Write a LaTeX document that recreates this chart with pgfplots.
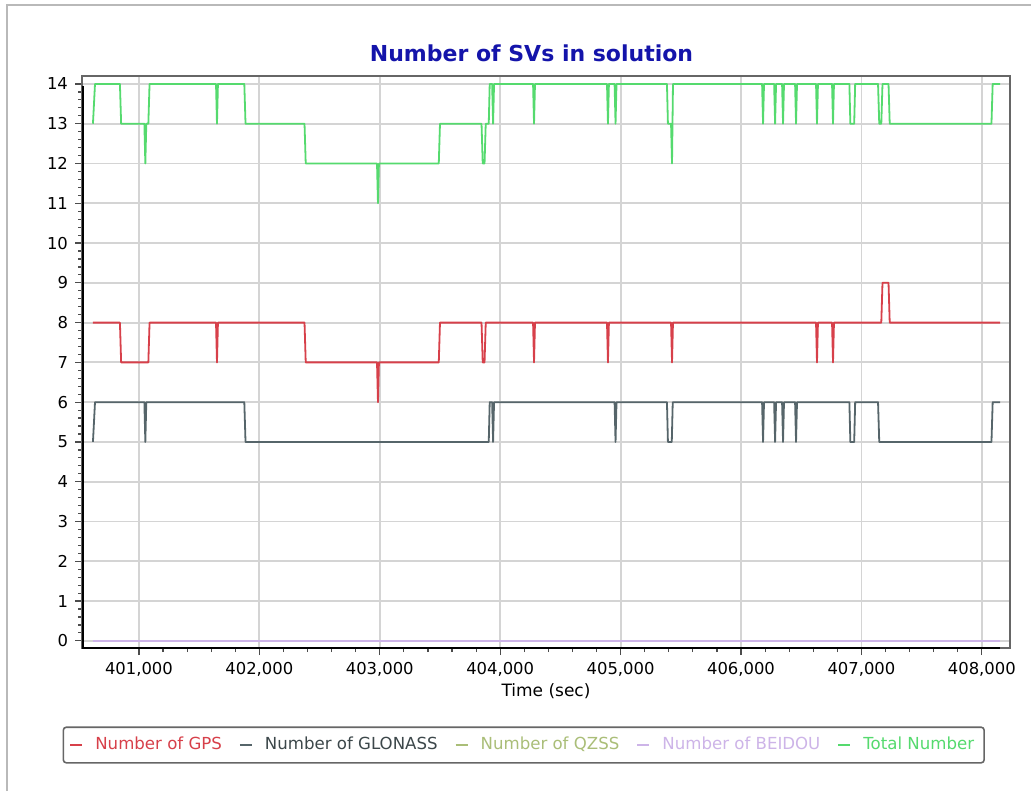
\documentclass[border=0pt]{standalone}
\usepackage{pgfplots}
\pgfplotsset{compat=1.18}
\usepackage{fontspec}
\setmainfont{DejaVu Sans}
\definecolor{gpscol}{RGB}{215,64,74}
\definecolor{glocol}{RGB}{86,101,106}
\definecolor{qzscol}{RGB}{170,190,120}
\definecolor{beicol}{RGB}{205,180,232}
\definecolor{totcol}{RGB}{85,218,110}
\definecolor{titleblue}{RGB}{20,20,170}
\begin{document}
\begin{tikzpicture}[x=1pt,y=1pt]
% 1 px of the reference = 0.5pt; origin at the lower left corner of the plot area
\useasboundingbox (-41,-71.5) rectangle (474.5,324);
\draw[gray!55, line width=0.8pt] (-37.5,-71.5) -- (-37.5,321.5) -- (474.5,321.5);
\begin{axis}[
  at={(0,0)}, anchor=south west, scale only axis,
  width=464pt, height=286pt,
  xmin=400527, xmax=408234, ymin=-0.18, ymax=14.2,
  xtick={401000,402000,...,408000}, ytick={0,1,...,14},
  minor x tick num=4, minor y tick num=4,
  tick pos=left, tick align=outside,
  major tick length=3.5pt, minor tick length=2pt,
  tick style={black!70, line width=0.6pt},
  grid=major, major grid style={black!17, line width=0.9pt},
  axis line style={black!60, line width=0.7pt},
  scaled x ticks=false,
  /pgf/number format/assume math mode=true,
  xticklabel style={/pgf/number format/.cd, fixed, 1000 sep={,}},
  ticklabel style={font=\fontsize{8.2}{9}\selectfont},
  xlabel={Time (sec)},
  xlabel style={font=\fontsize{8.5}{9}\selectfont, yshift=3pt},
  legend columns=5,
  legend style={at={(0.476,-0.1696)}, anchor=center,
    draw=black!60, line width=0.8pt, rounded corners=1.5pt,
    font=\fontsize{8.3}{10}\selectfont, inner sep=3pt,
    /tikz/every odd column/.append style={column sep=4pt},
    /tikz/every even column/.append style={column sep=6.5pt}},
  legend image code/.code={\draw[#1, line width=1pt] (0pt,0pt) -- (6pt,0pt);},
  every axis plot/.append style={line width=0.9pt, line join=round, mark=none},
]
\addplot[gpscol] coordinates {
(400618,8) (400842,8) (400852,7) (401078,7) (401088,8) (401640,8) (401648,7)
(401656,8) (402375,8) (402385,7) (402977,7) (402985,6) (402993,7) (403490,7)
(403500,8) (403845,8) (403855,7) (403870,7) (403880,8) (404273,8) (404281,7)
(404289,8) (404887,8) (404895,7) (404903,8) (405419,8) (405427,7) (405435,8)
(406623,8) (406631,7) (406639,8) (406756,8) (406764,7) (406772,8) (407165,8)
(407175,9) (407225,9) (407235,8) (408151,8)};
\addlegendentry{\textcolor{gpscol}{Number of GPS}}
\addplot[glocol] coordinates {
(400618,5) (400635,6) (401045,6) (401053,5) (401061,6) (401875,6) (401885,5)
(403905,5) (403913,6) (403933,6) (403941,5) (403949,6) (404950,6) (404958,5)
(404966,6) (405385,6) (405393,5) (405425,5) (405433,6) (406175,6) (406183,5)
(406191,6) (406275,6) (406283,5) (406291,6) (406341,6) (406349,5) (406357,6)
(406449,6) (406457,5) (406465,6) (406900,6) (406908,5) (406940,5) (406948,6)
(407138,6) (407148,5) (408080,5) (408090,6) (408151,6)};
\addlegendentry{\textcolor{glocol!70!black}{Number of GLONASS}}
\addplot[qzscol] coordinates {(400618,0) (408151,0)};
\addlegendentry{\textcolor{qzscol}{Number of QZSS}}
\addplot[beicol] coordinates {(400618,0) (408151,0)};
\addlegendentry{\textcolor{beicol}{Number of BEIDOU}}
\addplot[totcol] coordinates {
(400618,13) (400635,14) (400842,14) (400852,13) (401045,13) (401053,12) (401061,13)
(401078,13) (401088,14) (401640,14) (401648,13) (401656,14) (401875,14) (401885,13)
(402375,13) (402385,12) (402977,12) (402985,11) (402993,12) (403490,12) (403500,13)
(403845,13) (403855,12) (403870,12) (403880,13) (403905,13) (403913,14) (403933,14)
(403941,13) (403949,14) (404273,14) (404281,13) (404289,14) (404887,14) (404895,13)
(404903,14) (404950,14) (404958,13) (404966,14) (405385,14) (405393,13) (405419,13)
(405427,12) (405435,14) (406175,14) (406183,13) (406191,14)
(406275,14) (406283,13) (406291,14) (406341,14) (406349,13) (406357,14) (406449,14)
(406457,13) (406465,14) (406623,14) (406631,13) (406639,14) (406756,14) (406764,13)
(406772,14) (406900,14) (406908,13) (406940,13) (406948,14) (407138,14) (407148,13)
(407165,13) (407175,14) (407225,14) (407235,13) (408080,13) (408090,14) (408151,14)};
\addlegendentry{\textcolor{totcol}{Total Number}}
\draw[black, line width=1.5pt] (rel axis cs:0,0.983) -- (rel axis cs:0,0) -- (rel axis cs:0.989,0);
\end{axis}
\node[font=\bfseries\fontsize{11}{13}\selectfont, text=titleblue] at (224.75,297.5) {Number of SVs in solution};
\end{tikzpicture}
\end{document}
